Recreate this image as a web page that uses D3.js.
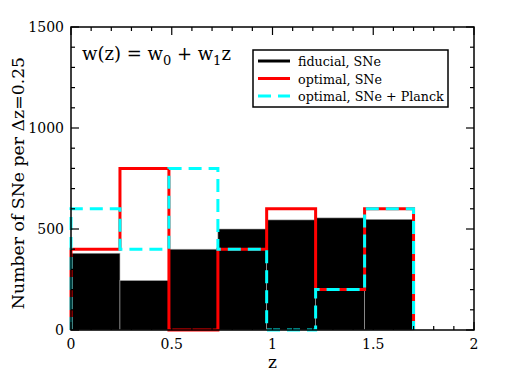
<!DOCTYPE html>
<html><head><meta charset="utf-8">
<script src="https://cdn.jsdelivr.net/npm/d3@7"></script>
<style>body{margin:0;background:#fff}svg{display:block}
svg text{font-family:"DejaVu Serif",serif;}</style>
</head><body>
<svg id="c" width="512" height="388"></svg>
<script>
const binEdges = [0, 0.243, 0.486, 0.729, 0.971, 1.214, 1.457, 1.7];
const fiducial = [380, 245, 400, 500, 545, 555, 548];
const optimal = [400, 800, 0, 400, 600, 200, 600];
const optimalPlanck = [600, 400, 800, 400, 0, 200, 600];
const xTicks = [0, 0.5, 1, 1.5, 2];
const yTicks = [0, 500, 1000, 1500];
const legendLabels = ["fiducial, SNe", "optimal, SNe", "optimal, SNe + Planck"];

const svg = d3.select("#c");
const L = 71, R = 474, T = 27, B = 330;
const x = d3.scaleLinear().domain([0, 2]).range([L, R]);
const y = d3.scaleLinear().domain([0, 1500]).range([B, T]);

svg.append("g").selectAll("rect").data(fiducial).join("rect")
  .attr("x", (d, i) => x(binEdges[i]))
  .attr("width", (d, i) => x(binEdges[i + 1]) - x(binEdges[i]))
  .attr("y", d => y(d))
  .attr("height", d => y(0) - y(d))
  .attr("fill", "#000").attr("stroke", "#aaa").attr("stroke-width", 0.6);

function stepPts(vals) {
  const pts = [[binEdges[0], 0]];
  vals.forEach((v, i) => { pts.push([binEdges[i], v]); pts.push([binEdges[i + 1], v]); });
  pts.push([binEdges[binEdges.length - 1], 0]);
  return pts;
}
const line = d3.line().x(d => x(d[0])).y(d => y(d[1]));
svg.append("path").attr("d", line(stepPts(optimal)))
  .attr("fill", "none").attr("stroke", "#ff0000").attr("stroke-width", 3);
svg.append("path").attr("d", line(stepPts(optimalPlanck)))
  .attr("fill", "none").attr("stroke", "#00ffff").attr("stroke-width", 3)
  .attr("stroke-dasharray", "13,7");

svg.append("rect").attr("x", L).attr("y", T).attr("width", R - L).attr("height", B - T)
  .attr("fill", "none").attr("stroke", "#000").attr("stroke-width", 1.5);

const tg = svg.append("g").attr("stroke", "#000").attr("stroke-width", 1.2);
d3.range(0, 2.0001, 0.1).forEach(v => {
  const major = Math.abs(v * 2 - Math.round(v * 2)) < 1e-6;
  const len = major ? 8 : 4;
  tg.append("line").attr("x1", x(v)).attr("x2", x(v)).attr("y1", B).attr("y2", B - len);
  tg.append("line").attr("x1", x(v)).attr("x2", x(v)).attr("y1", T).attr("y2", T + len);
});
d3.range(0, 1500.1, 100).forEach(v => {
  const major = v % 500 === 0;
  const len = major ? 8 : 4;
  tg.append("line").attr("y1", y(v)).attr("y2", y(v)).attr("x1", L).attr("x2", L + len);
  tg.append("line").attr("y1", y(v)).attr("y2", y(v)).attr("x1", R).attr("x2", R - len);
});

svg.append("g").selectAll("text").data(xTicks).join("text")
  .attr("x", d => x(d)).attr("y", B + 19).attr("text-anchor", "middle")
  .attr("font-size", 14).text(d => d);
svg.append("g").selectAll("text").data(yTicks).join("text")
  .attr("x", L - 7).attr("y", d => y(d) + 5).attr("text-anchor", "end")
  .attr("font-size", 14).text(d => d);

svg.append("text").attr("x", x(1)).attr("y", 368).attr("text-anchor", "middle")
  .attr("font-size", 17).text("z");
svg.append("text").attr("transform", "translate(24,183) rotate(-90)").attr("text-anchor", "middle")
  .attr("font-size", 17.3).text("Number of SNe per Δz=0.25");

const ann = svg.append("text").attr("x", 82).attr("y", 60).attr("font-size", 18);
ann.append("tspan").text("w(z) = w");
ann.append("tspan").attr("dy", 5).attr("font-size", 13).text("0");
ann.append("tspan").attr("dy", -5).text(" + w");
ann.append("tspan").attr("dy", 5).attr("font-size", 13).text("1");
ann.append("tspan").attr("dy", -5).text("z");

const lg = svg.append("g");
lg.append("rect").attr("x", 253).attr("y", 50).attr("width", 195).attr("height", 57)
  .attr("fill", "#fff").attr("stroke", "#000").attr("stroke-width", 1.5);
const colors = ["#000", "#ff0000", "#00ffff"];
legendLabels.forEach((t, i) => {
  const yy = 61 + i * 17.5;
  const ln = lg.append("line").attr("x1", 258).attr("x2", 290).attr("y1", yy).attr("y2", yy)
    .attr("stroke", colors[i]).attr("stroke-width", 3);
  if (i === 2) ln.attr("stroke-dasharray", "13,7");
  lg.append("text").attr("x", 298).attr("y", yy + 5).attr("font-size", 12.7).text(t);
});
</script>
</body></html>
